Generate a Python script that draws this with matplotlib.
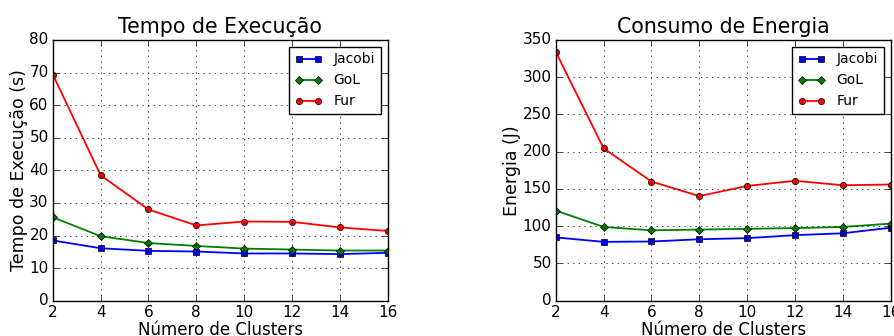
import matplotlib
matplotlib.use("Agg")
import matplotlib.pyplot as plt

clusters = [2, 4, 6, 8, 10, 12, 14, 16]

tempo_jacobi = [18.5, 16.1, 15.3, 15.1, 14.5, 14.5, 14.3, 14.7]
tempo_gol = [25.6, 19.8, 17.7, 16.8, 16.0, 15.7, 15.4, 15.4]
tempo_fur = [69.4, 38.5, 28.0, 23.1, 24.3, 24.2, 22.5, 21.4]

energia_jacobi = [85, 79, 79.5, 82.5, 84, 88, 90.5, 98]
energia_gol = [121, 99, 94.5, 95.5, 96.5, 97.5, 99, 103.5]
energia_fur = [334, 204.5, 160, 140.5, 154, 161, 155, 156]

plt.style.use("classic")
plt.rcParams["font.family"] = "DejaVu Sans"

fig = plt.figure(figsize=(8.95, 3.36), dpi=100)
ax1 = fig.add_axes([0.059, 0.105, 0.374, 0.776])
ax2 = fig.add_axes([0.621, 0.105, 0.374, 0.776])


def draw(ax, jac, gol, fur, title, ylabel, ymax):
    ax.plot(clusters, jac, "b-s", lw=1.3, markersize=4.5, label="Jacobi")
    ax.plot(clusters, gol, "g-D", lw=1.3, markersize=4.5, label="GoL")
    ax.plot(clusters, fur, "r-o", lw=1.3, markersize=4.5, label="Fur")
    ax.set_xlim(2, 16)
    ax.set_ylim(0, ymax)
    ax.set_xticks(clusters)
    ax.grid(True)
    ax.tick_params(labelsize=11, pad=3)
    ax.set_title(title, fontsize=14.8)
    ax.set_xlabel("Número de Clusters", fontsize=12, labelpad=1)
    ax.set_ylabel(ylabel, fontsize=12.5, labelpad=1)
    ax.legend(loc="upper right", fontsize=10, numpoints=2)


draw(ax1, tempo_jacobi, tempo_gol, tempo_fur, "Tempo de Execução", "Tempo de Execução (s)", 80)
draw(ax2, energia_jacobi, energia_gol, energia_fur, "Consumo de Energia", "Energia (J)", 350)

fig.savefig("out.png", dpi=100)
